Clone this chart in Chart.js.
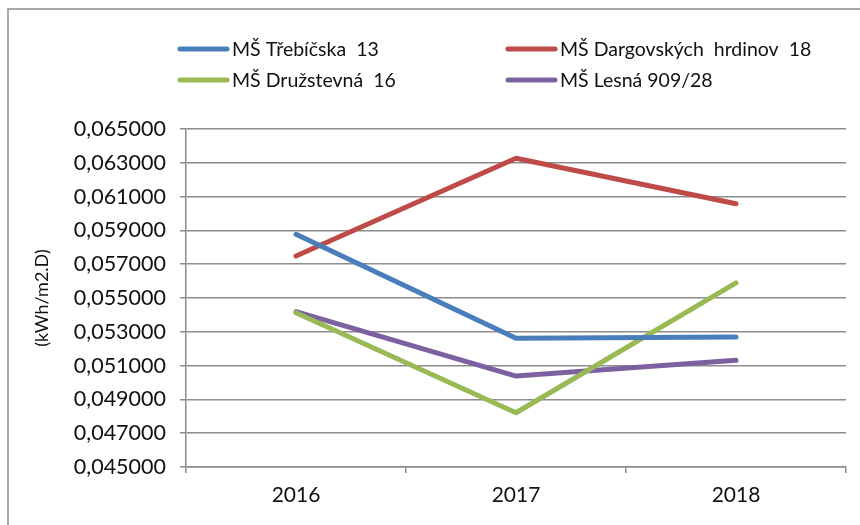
<!DOCTYPE html>
<html>
<head>
<meta charset="utf-8">
<script src="https://cdn.jsdelivr.net/npm/chart.js@4/dist/chart.umd.min.js"></script>
<style>
  html,body{margin:0;padding:0;background:#fff}
  #wrap{width:860px;height:525px;position:relative}
</style>
</head>
<body>
<div id="wrap"><canvas id="ch"></canvas></div>
<script>
// ===================== DATA =====================
const roky=['2016','2017','2018'];
const trebicska=[0.05877,0.05262,0.05269];
const dargovskych=[0.05749,0.06327,0.06058];
const druzstevna=[0.05413,0.04821,0.05589];
const lesna=[0.05419,0.05038,0.05131];
const yTicks=[0.045,0.047,0.049,0.051,0.053,0.055,0.057,0.059,0.061,0.063,0.065];
const nazvy=['MŠ Třebíčska  13','MŠ Dargovských  hrdinov  18','MŠ Družstevná  16','MŠ Lesná 909/28'];
const farby=['#4a7ebb','#be4b48','#98b954','#7d60a0'];

const FONT='Lato, "Open Sans", sans-serif';
const GRID='#8c8c8c';

// ── rám okolo grafu + legenda v 2 stĺpcoch ──
const ramPlugin={
  id:'ram',
  beforeDraw(chart){
    const c=chart.ctx;
    c.save();
    c.strokeStyle='#8a8a8a'; c.lineWidth=1.5;
    c.strokeRect(8,9,900,600);
    c.restore();
  },
  afterDraw(chart){
    const c=chart.ctx;
    const pos=[[180,49],[508,49],[180,80],[508,80]];
    c.save();
    c.font='19.5px '+FONT; c.textBaseline='middle'; c.fillStyle='#111';
    chart.data.datasets.forEach((ds,i)=>{
      const [x,y]=pos[i];
      c.strokeStyle=ds.borderColor; c.lineWidth=5; c.lineCap='round';
      c.beginPath(); c.moveTo(x,y); c.lineTo(x+47,y); c.stroke();
      c.fillText(ds.label,x+52,y+1);
    });
    c.restore();
  }
};

const mkDs=(label,data,color)=>({label,data,borderColor:color,backgroundColor:color,
  borderWidth:5,pointRadius:0,tension:0,borderCapStyle:'round',borderJoinStyle:'round'});

new Chart(document.getElementById('ch'),{
  type:'line',
  data:{labels:roky,datasets:[
    mkDs(nazvy[0],trebicska,farby[0]),
    mkDs(nazvy[1],dargovskych,farby[1]),
    mkDs(nazvy[2],druzstevna,farby[2]),
    mkDs(nazvy[3],lesna,farby[3])
  ]},
  options:{
    responsive:true,maintainAspectRatio:false,animation:false,
    layout:{padding:{top:129,right:14,left:0,bottom:0}},
    plugins:{legend:{display:false},tooltip:{enabled:false}},
    scales:{
      x:{
        offset:true,
        grid:{offset:true,drawOnChartArea:false,color:GRID,lineWidth:1.5,tickLength:6},
        border:{color:GRID,width:1.5},
        ticks:{color:'#111',font:{family:FONT,size:21},padding:10},
        afterFit(s){s.height=58;}
      },
      y:{
        min:0.045,max:0.065,
        afterBuildTicks(s){s.ticks=yTicks.map(v=>({value:v}));},
        grid:{color:GRID,lineWidth:1.5,tickLength:6},
        border:{color:GRID,width:1.5},
        ticks:{color:'#111',font:{family:FONT,size:21.5},padding:14,
          callback:v=>Number(v).toFixed(6).replace('.',',')},
        title:{display:true,text:'(kWh/m2.D)',color:'#111',font:{family:FONT,size:18},padding:{top:31,bottom:0}},
        afterFit(s){s.width=186;}
      }
    }
  },
  plugins:[ramPlugin]
});
</script>
</body>
</html>
